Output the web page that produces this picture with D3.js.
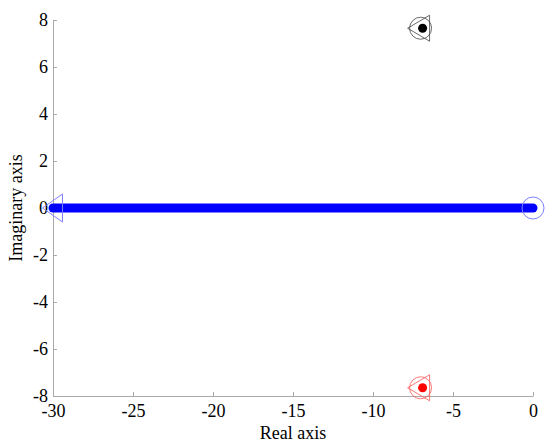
<!DOCTYPE html>
<html>
<head>
<meta charset="utf-8">
<script src="https://cdn.jsdelivr.net/npm/d3@7"></script>
<style>
  body { margin: 0; background: #fff; }
  text { font-family: "Liberation Serif", "Times New Roman", serif !important; }
</style>
</head>
<body>
<svg id="chart" width="550" height="447"></svg>
<script>
// root locus data
const xTicks = [-30, -25, -20, -15, -10, -5, 0];
const yTicks = [-8, -6, -4, -2, 0, 2, 4, 6, 8];
const locusReal = [-30, 0];
const locusImag = [0, 0];
const poles = [
    { re: -6.9, im: 7.65, color: '#000000', ring: '#444444' },
    { re: -6.9, im: -7.65, color: '#ff0000', ring: '#ff5555' }
];
const startPoint = { re: 0, im: 0 };
const endPoint = { re: -30, im: 0 };

const MARGIN = { left: 53, right: 17, top: 20, bottom: 51 };
const WIDTH = 550, HEIGHT = 447;

let svg = d3.select('#chart');
let xScale = d3.scaleLinear().domain([-30, 0]).range([MARGIN.left, WIDTH - MARGIN.right]);
let yScale = d3.scaleLinear().domain([-8, 8]).range([HEIGHT - MARGIN.bottom, MARGIN.top]);

const axisColor = '#aaaaaa';

// x axis, ticks pointing inward, plain hyphen minus like matlab
let gx = svg.append('g')
    .attr('transform', `translate(0, ${yScale(-8)})`)
    .call(d3.axisBottom(xScale).tickValues(xTicks).tickFormat(d => String(d))
        .tickSizeInner(-4).tickSizeOuter(0).tickPadding(8));
gx.select('.domain').attr('stroke', axisColor);
gx.selectAll('.tick line').attr('stroke', axisColor);
gx.selectAll('.tick text').style('font-size', '18px').attr('fill', '#000');

let gy = svg.append('g')
    .attr('transform', `translate(${xScale(-30)}, 0)`)
    .call(d3.axisLeft(yScale).tickValues(yTicks).tickFormat(d => String(d))
        .tickSizeInner(-4).tickSizeOuter(0).tickPadding(5));
gy.select('.domain').attr('stroke', axisColor);
gy.selectAll('.tick line').attr('stroke', axisColor);
gy.selectAll('.tick text').style('font-size', '18px').attr('fill', '#000');

// axis labels
svg.append('text')
    .text('Real axis')
    .attr('x', (xScale(-30) + xScale(0)) / 2)
    .attr('y', 439)
    .attr('text-anchor', 'middle')
    .style('font-size', '18px');

svg.append('text')
    .text('Imaginary axis')
    .attr('transform', `translate(22, ${yScale(0)}) rotate(-90)`)
    .attr('text-anchor', 'middle')
    .style('font-size', '18px');

// locus branch
let lineData = locusReal.map((r, i) => [r, locusImag[i]]);
svg.append('path')
    .datum(lineData)
    .attr('d', d3.line().x(d => xScale(d[0])).y(d => yScale(d[1])))
    .attr('stroke', '#0000ff')
    .attr('stroke-width', 9)
    .attr('stroke-linecap', 'round')
    .attr('fill', 'none');

// circle marker at start, triangle at end
svg.append('circle')
    .attr('cx', xScale(startPoint.re))
    .attr('cy', yScale(startPoint.im))
    .attr('r', 11)
    .attr('fill', 'none')
    .attr('stroke', '#8080ff')
    .attr('stroke-width', 1);

function triangle(cx, cy, w, h) {
    // left-pointing triangle, apex at cx - w/2
    return `M${cx - w / 2},${cy} L${cx + w / 2},${cy - h / 2} L${cx + w / 2},${cy + h / 2} Z`;
}

svg.append('path')
    .attr('d', triangle(xScale(endPoint.re) - 0.5, yScale(endPoint.im), 20, 28))
    .attr('fill', 'none')
    .attr('stroke', '#8080ff')
    .attr('stroke-width', 1);

// complex poles
let pg = svg.selectAll('.pole')
    .data(poles)
    .join('g')
    .attr('class', 'pole');

pg.append('circle')
    .attr('cx', d => xScale(d.re) - 2)
    .attr('cy', d => yScale(d.im))
    .attr('r', 11)
    .attr('fill', 'none')
    .attr('stroke', d => d.ring)
    .attr('stroke-width', 0.8);

pg.append('path')
    .attr('d', d => triangle(xScale(d.re) - 4, yScale(d.im), 22, 26))
    .attr('fill', 'none')
    .attr('stroke', d => d.ring)
    .attr('stroke-width', 0.8);

pg.append('circle')
    .attr('cx', d => xScale(d.re))
    .attr('cy', d => yScale(d.im))
    .attr('r', 4.5)
    .attr('fill', d => d.color);
</script>
</body>
</html>
